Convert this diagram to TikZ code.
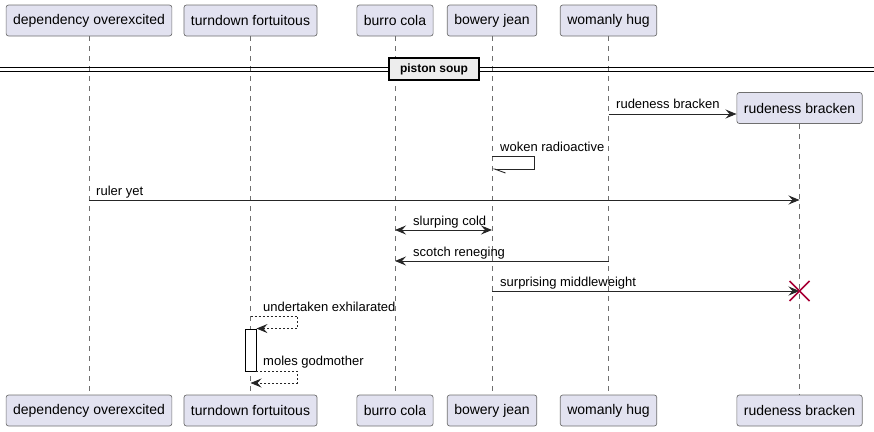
\documentclass[tikz,border=0pt]{standalone}
\usepackage{fontspec}
\setmainfont{Liberation Sans}
\usepackage{tikz}
\usetikzlibrary{calc,arrows.meta}
\definecolor{partfill}{HTML}{E2E2F0}
\definecolor{partline}{HTML}{6F6F6F}
\definecolor{killred}{HTML}{A80036}
\tikzstyle{partbox}=[rectangle,rounded corners=2.5pt,draw=partline,fill=partfill,
                     line width=0.7pt,font=\fontsize{14}{16}\selectfont,
                     inner xsep=7pt,inner ysep=0pt,minimum height=31pt]
\tikzstyle{lifeline}=[draw=partline,line width=0.7pt,dash pattern=on 5pt off 5pt]
\tikzstyle{msg}=[draw=black!85,line width=0.9pt,
                 -{Stealth[length=11pt,width=9pt,inset=4pt]}]
\tikzstyle{reply}=[msg,dash pattern=on 2pt off 2pt]
\tikzstyle{msglabel}=[anchor=base west,inner sep=0pt,font=\fontsize{13}{15}\selectfont]
\tikzstyle{divbox}=[rectangle,draw=black,line width=1.6pt,fill=black!7,
                    font=\fontsize{12}{14}\selectfont\bfseries,
                    inner xsep=11pt,inner ysep=0pt,minimum height=22pt]
\tikzstyle{divline}=[draw=black,line width=0.9pt]
\newcommand\ytop{20.5}
\newcommand\ybot{410.5}

\begin{document}
\begin{tikzpicture}[x=1pt,y=-1pt]
    \useasboundingbox (0,0) rectangle (874,431);

    % participants, top and bottom
    \node [partbox] (dep) at ($(89,\ytop)$) {dependency overexcited};
    \node [partbox] (turn) at ($(250.5,\ytop)$) {turndown fortuitous};
    \node [partbox] (burro) at ($(395,\ytop)$) {burro cola};
    \node [partbox] (bowery) at ($(492,\ytop)$) {bowery jean};
    \node [partbox] (womanly) at ($(608.5,\ytop)$) {womanly hug};
    \node [partbox] (rude) at ($(799.5,108)$) {rudeness bracken};

    \node [partbox] (depB) at ($(89,\ybot)$) {dependency overexcited};
    \node [partbox] (turnB) at ($(250.5,\ybot)$) {turndown fortuitous};
    \node [partbox] (burroB) at ($(395,\ybot)$) {burro cola};
    \node [partbox] (boweryB) at ($(492,\ybot)$) {bowery jean};
    \node [partbox] (womanlyB) at ($(608.5,\ybot)$) {womanly hug};
    \node [partbox] (rudeB) at ($(799.5,\ybot)$) {rudeness bracken};

    % lifelines
    \foreach \p in {dep,turn,burro,bowery,womanly,rude}
        \draw [lifeline] (\p.south) -- (\p B.north);

    % divider
    \coordinate (divL) at (0,69.5);
    \coordinate (divR) at (874,69.5);
    \draw [divline] ($(divL)+(0,-2)$) -- ($(divR)+(0,-2)$);
    \draw [divline] ($(divL)+(0,2)$) -- ($(divR)+(0,2)$);
    \node [divbox] (piston) at (434,69) {piston soup};

    % create
    \coordinate (createA) at (608.5,114);
    \draw [msg] (createA) -- (rude.west |- createA);
    \node [msglabel] (createL) at (616,108) {rudeness bracken};

    % self message
    \coordinate (wokenA) at (492,156);
    \coordinate (wokenB) at (492,169);
    \draw [draw=black!85,line width=0.9pt,-{Straight Barb[left,length=11pt,width=8pt]}]
        (wokenA) -- ++(42,0) |- (wokenB);
    \node [msglabel] (wokenL) at (500,151) {woken radioactive};

    % long message
    \coordinate (rulerA) at (89,200);
    \coordinate (rulerB) at (799.5,200);
    \draw [msg] (rulerA) -- (rulerB);
    \node [msglabel] (rulerL) at (96,195) {ruler yet};

    \coordinate (slurpA) at (395,230);
    \coordinate (slurpB) at (492,230);
    \draw [msg,{Stealth[length=11pt,width=9pt,inset=4pt]}-{Stealth[length=11pt,width=9pt,inset=4pt]}]
        (slurpA) -- (slurpB);
    \node [msglabel] (slurpL) at (413,225) {slurping cold};

    \coordinate (scotchA) at (608.5,261);
    \coordinate (scotchB) at (395,261);
    \draw [msg] (scotchA) -- (scotchB);
    \node [msglabel] (scotchL) at (413,256) {scotch reneging};

    \coordinate (killA) at (492,291);
    \coordinate (kill) at (799.5,291);
    \draw [msg] (killA) -- (kill);
    \node [msglabel] (killL) at (500,286) {surprising middleweight};
    \draw [killred,line width=1.6pt] (kill) +(-10,-10) -- +(10,10) +(-10,10) -- +(10,-10);

    % activation and replies
    \node [rectangle,draw=black,fill=white,line width=0.9pt,minimum width=11pt,
           minimum height=42pt,inner sep=0pt] (act) at (250.5,350) {};
    \coordinate (undA) at (250.5,316);
    \draw [reply] (undA) -- ++(47,0) |- (act.north east);
    \node [msglabel] (undL) at (263,311) {undertaken exhilarated};

    \coordinate (molesB) at (250.5,383);
    \draw [reply] (act.south east) -- ++(41,0) |- (molesB);
    \node [msglabel] (molesL) at (263,365) {moles godmother};
\end{tikzpicture}
\end{document}
